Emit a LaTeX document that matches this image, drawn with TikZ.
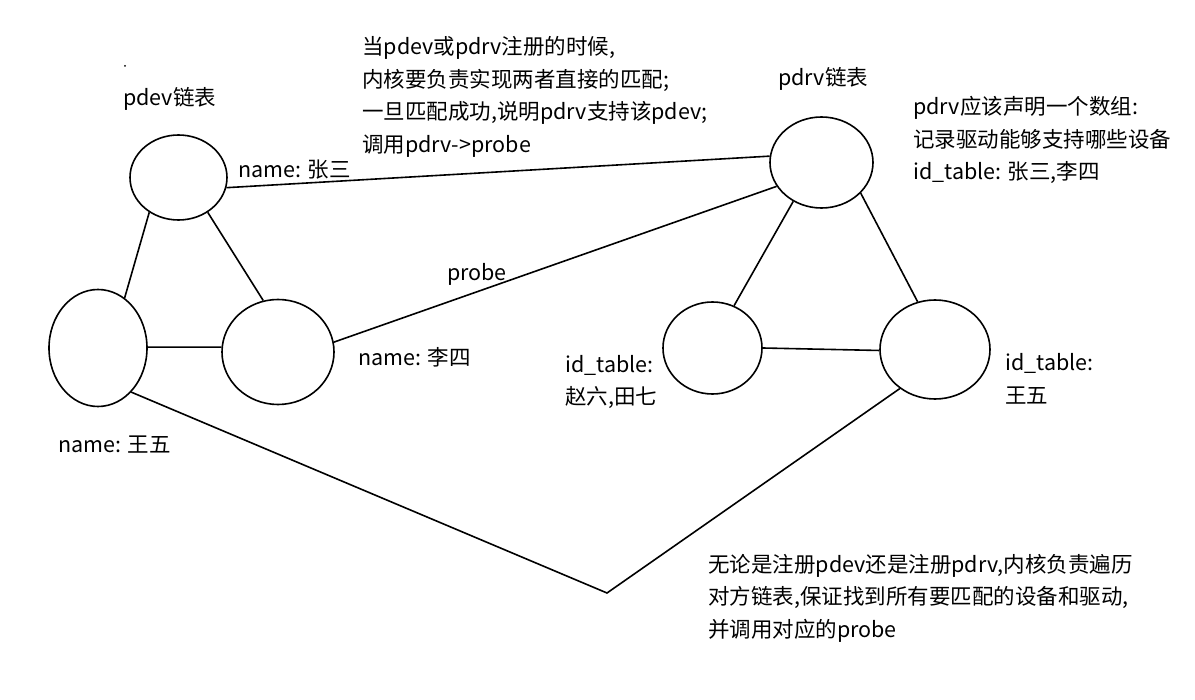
\documentclass[tikz,border=0pt]{standalone}
\usepackage{fontspec}
\setmainfont{Noto Sans CJK SC}
\usetikzlibrary{shapes.geometric}
\begin{document}
\begin{tikzpicture}[x=1pt,y=-1pt,
  ell/.style={ellipse,draw,line width=1.6pt,inner sep=0pt},
  conn/.style={line width=1.6pt},
  txt/.style={anchor=west,inner sep=0pt,align=left,font=\fontsize{21.5}{32.5}\selectfont}]
\useasboundingbox (0,0) rectangle (1195,700);
\fill[white] (0,0) rectangle (1195,700);
% ellipses
\node[ell,minimum width=97pt,minimum height=85pt] (A) at (178.5,177.5) {};
\node[ell,minimum width=98pt,minimum height=117pt] (B) at (98,348) {};
\node[ell,minimum width=112pt,minimum height=105pt] (C) at (278,352) {};
\node[ell,minimum width=103pt,minimum height=91pt] (D) at (821.5,162.5) {};
\node[ell,minimum width=99pt,minimum height=92pt] (E) at (712.5,348) {};
\node[ell,minimum width=110pt,minimum height=99pt] (F) at (935,349.5) {};
\coordinate (V) at (607,593);
% connectors
\draw[conn] (A.-12) -- (D.173);
\draw[conn] (A.-130) -- (B.62);
\draw[conn] (A.-50) -- (C.106);
\draw[conn] (B.1) -- (C.175);
\draw[conn] (C.10) -- (D.-152);
\draw[conn] (D.-126) -- (E.63);
\draw[conn] (D.-38) -- (F.110);
\draw[conn] (E.0) -- (F.181);
\draw[conn] (B.-53) -- (V) -- (F.-132);
% texts
\fill (125,66) circle (1pt);
\node[txt] (t1) at (123,99) {pdev链表};
\node[txt] (t2) at (238,170) {name: 张三};
\node[txt] (t3) at (358,357) {name: 李四};
\node[txt] (t4) at (58,445) {name: 王五};
\node[txt] (t5) at (362,97) {当pdev或pdrv注册的时候,\\内核要负责实现两者直接的匹配;\\一旦匹配成功,说明pdrv支持该pdev;\\调用pdrv->probe};
\node[txt] (t6) at (778,79) {pdrv链表};
\node[txt] (t7) at (913,140) {pdrv应该声明一个数组:\\记录驱动能够支持哪些设备\\id\_table: 张三,李四};
\node[txt] (t8) at (447,274) {probe};
\node[txt] (t9) at (565,382) {id\_table:\\赵六,田七};
\node[txt] (t10) at (1005,379) {id\_table:\\王五};
\node[txt] (t11) at (708,598) {无论是注册pdev还是注册pdrv,内核负责遍历\\对方链表,保证找到所有要匹配的设备和驱动,\\并调用对应的probe};
\end{tikzpicture}
\end{document}
